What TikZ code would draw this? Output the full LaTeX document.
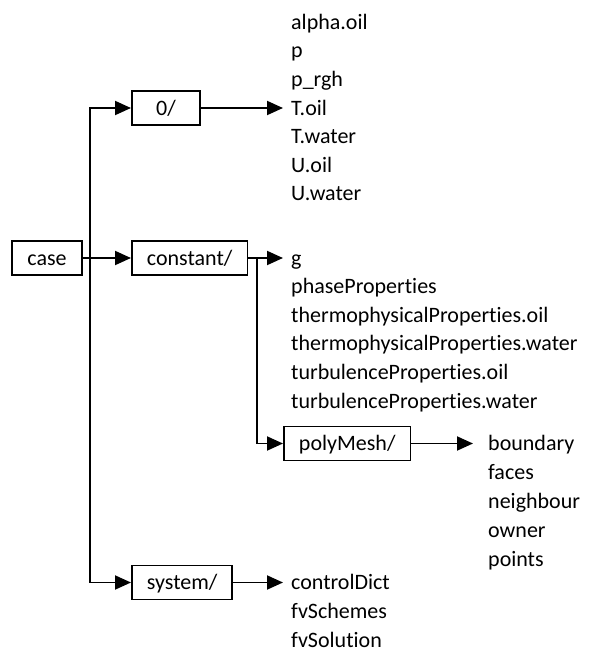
\documentclass[tikz,border=0pt]{standalone}
\usepackage{fontspec}
\setmainfont{Carlito}[RawFeature={-liga;-clig;-calt;-dlig}]
\usetikzlibrary{arrows.meta}

\begin{document}
\begin{tikzpicture}[
  x=1pt, y=-1pt,
  dirbox/.style  = {draw, line width=1.9pt, minimum width=68pt, minimum height=34pt, inner xsep=15pt, text height=14pt, text depth=0pt, font=\fontsize{22}{26}\selectfont},
  filebox/.style = {anchor=west, inner xsep=8pt, inner ysep=0pt, text height=14pt, text depth=0pt, font=\fontsize{22}{26}\selectfont},
  arr/.style     = {-{Triangle[length=16pt,width=14pt]}, line width=1.9pt},
]
\useasboundingbox (0,0) rectangle (606,653);
% folders
\node[dirbox] (case) at (47,258) {case};
\node[dirbox, anchor=west] (zero) at (131,108) {0/};
\node[dirbox, anchor=west] (const) at (131,258) {constant/};
\node[dirbox, anchor=west] (poly) at (283,443.5) {polyMesh/};
\node[dirbox, anchor=west] (sys) at (131,582.5) {system/};
% files in 0/
\node[filebox] (alpha) at (283,22.2) {alpha.oil};
\node[filebox] (p) at (283,50.8) {p};
\node[filebox] (prgh) at (283,79.4) {p\_rgh};
\node[filebox] (toil) at (283,108) {T.oil};
\node[filebox] (twater) at (283,136.6) {T.water};
\node[filebox] (uoil) at (283,165.2) {U.oil};
\node[filebox] (uwater) at (283,193.8) {U.water};
% files in constant/
\node[filebox] (g) at (283,258) {g};
\node[filebox] (phase) at (283,286.6) {phaseProperties};
\node[filebox] (thoil) at (283,315.2) {thermophysicalProperties.oil};
\node[filebox] (thwater) at (283,343.8) {thermophysicalProperties.water};
\node[filebox] (turboil) at (283,372.4) {turbulenceProperties.oil};
\node[filebox] (turbwater) at (283,401) {turbulenceProperties.water};
% files in polyMesh/
\node[filebox] (bound) at (480,443.5) {boundary};
\node[filebox] (faces) at (480,472.5) {faces};
\node[filebox] (neigh) at (480,501.5) {neighbour};
\node[filebox] (owner) at (480,530.5) {owner};
\node[filebox] (points) at (480,559.5) {points};
% files in system/
\node[filebox] (ctrl) at (283,582.5) {controlDict};
\node[filebox] (schemes) at (283,611.5) {fvSchemes};
\node[filebox] (solution) at (283,640.5) {fvSolution};
% connectors
\coordinate (trunk) at (90,258);
\coordinate (fork) at (257,258);
\draw[arr] (case.east) -- (const.west);
\draw[arr] (trunk) |- (zero.west);
\draw[arr] (trunk) |- (sys.west);
\draw[arr] (zero.east) -- (toil.west);
\draw[arr] (const.east) -- (g.west);
\draw[arr] (fork) |- (poly.west);
\draw[arr, shorten >=7pt] (poly.east) -- (bound.west);
\draw[arr] (sys.east) -- (ctrl.west);
\end{tikzpicture}
\end{document}
